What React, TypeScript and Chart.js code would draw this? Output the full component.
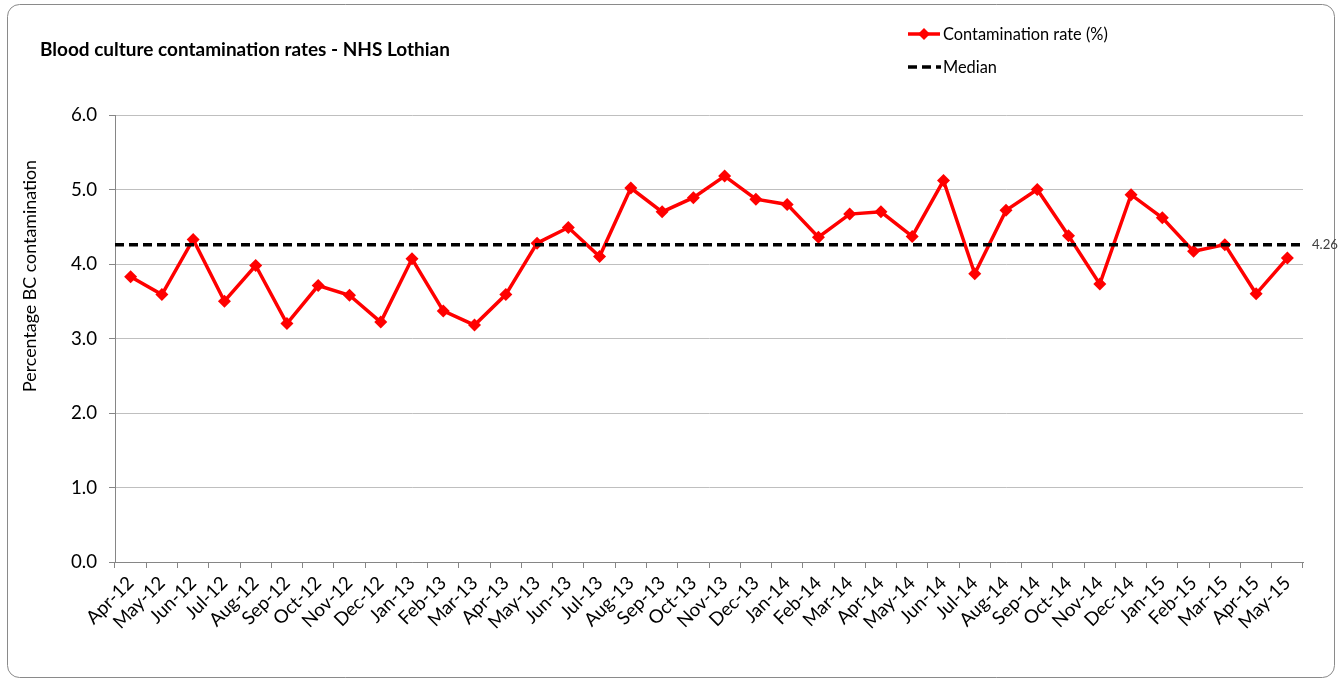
import React, { useEffect, useRef } from "react";
import { Chart, registerables } from "chart.js";

Chart.register(...registerables);

const categories = [
  "Apr-12", "May-12", "Jun-12", "Jul-12", "Aug-12", "Sep-12", "Oct-12", "Nov-12", "Dec-12", "Jan-13", "Feb-13", "Mar-13",
  "Apr-13", "May-13", "Jun-13", "Jul-13", "Aug-13", "Sep-13", "Oct-13", "Nov-13", "Dec-13", "Jan-14", "Feb-14", "Mar-14",
  "Apr-14", "May-14", "Jun-14", "Jul-14", "Aug-14", "Sep-14", "Oct-14", "Nov-14", "Dec-14", "Jan-15", "Feb-15", "Mar-15",
  "Apr-15", "May-15",
];

const rates = [
  3.83, 3.59, 4.33, 3.5, 3.98, 3.2, 3.71, 3.58, 3.22, 4.07, 3.37, 3.18,
  3.59, 4.28, 4.49, 4.1, 5.02, 4.7, 4.89, 5.18, 4.87, 4.8, 4.36, 4.67,
  4.7, 4.37, 5.12, 3.87, 4.72, 5.0, 4.38, 3.73, 4.93, 4.62, 4.17, 4.26,
  3.6, 4.08,
];

const median = 4.26;
const yMin = 0;
const yMax = 6;
const yStep = 1;

const chartTitle = "Blood culture contamination rates - NHS Lothian";
const seriesLabel = "Contamination rate (%)";
const medianLabel = "Median";
const yAxisTitle = "Percentage BC contamination";

const FAMILY = "Lato, 'Open Sans', sans-serif";

function fitSize(text: string, weight: string, target: number): number {
  const c = document.createElement("canvas").getContext("2d")!;
  c.font = `${weight} 100px ${FAMILY}`;
  return (target / c.measureText(text).width) * 100;
}

export default function App() {
  const ref = useRef<HTMLCanvasElement>(null);

  useEffect(() => {
    document.body.style.margin = "0";
    const legendSize = fitSize(seriesLabel, "normal", 165);
    const tickSize = legendSize * 1.14;
    const titleSize = fitSize(chartTitle, "bold", 410);
    const yTitleSize = fitSize(yAxisTitle, "normal", 232);
    const medSize = fitSize(median.toFixed(2), "normal", 26);

    const decor = {
      id: "decor",
      beforeDraw(chart: any) {
        const ctx = chart.ctx;
        ctx.save();
        ctx.fillStyle = "#ffffff";
        ctx.fillRect(0, 0, chart.width, chart.height);
        ctx.strokeStyle = "#8a8a8a";
        ctx.lineWidth = 1;
        ctx.beginPath();
        (ctx as any).roundRect(7.5, 4.5, 1327, 673, 12);
        ctx.stroke();
        ctx.restore();
      },
      afterDatasetsDraw(chart: any) {
        const ctx = chart.ctx;
        const ys = chart.scales.y;
        const area = chart.chartArea;
        const y = ys.getPixelForValue(median);
        ctx.save();
        ctx.strokeStyle = "#000000";
        ctx.lineWidth = 3.5;
        ctx.setLineDash([9, 5]);
        ctx.beginPath();
        ctx.moveTo(area.left, y);
        ctx.lineTo(area.right, y);
        ctx.stroke();
        ctx.setLineDash([]);
        ctx.fillStyle = "#404040";
        ctx.font = `normal ${medSize}px ${FAMILY}`;
        ctx.textBaseline = "middle";
        ctx.textAlign = "left";
        ctx.fillText(median.toFixed(2), area.right + 9, y);
        ctx.restore();
      },
      afterDraw(chart: any) {
        const ctx = chart.ctx;
        ctx.save();
        // title
        ctx.fillStyle = "#000000";
        ctx.font = `bold ${titleSize}px ${FAMILY}`;
        ctx.textBaseline = "middle";
        ctx.textAlign = "left";
        ctx.fillText(chartTitle, 40, 50);
        // legend
        ctx.font = `normal ${legendSize}px ${FAMILY}`;
        ctx.strokeStyle = "#ff0000";
        ctx.lineWidth = 3.5;
        ctx.beginPath();
        ctx.moveTo(908, 34);
        ctx.lineTo(940, 34);
        ctx.stroke();
        ctx.fillStyle = "#ff0000";
        ctx.beginPath();
        ctx.moveTo(924, 28);
        ctx.lineTo(930, 34);
        ctx.lineTo(924, 40);
        ctx.lineTo(918, 34);
        ctx.closePath();
        ctx.fill();
        ctx.fillStyle = "#000000";
        ctx.fillText(seriesLabel, 943, 35);
        ctx.strokeStyle = "#000000";
        ctx.lineWidth = 3.5;
        ctx.setLineDash([9, 5]);
        ctx.beginPath();
        ctx.moveTo(908, 67);
        ctx.lineTo(941, 67);
        ctx.stroke();
        ctx.setLineDash([]);
        ctx.fillText(medianLabel, 943, 68);
        // y axis title
        ctx.translate(30, 276);
        ctx.rotate(-Math.PI / 2);
        ctx.textAlign = "center";
        ctx.font = `normal ${yTitleSize}px ${FAMILY}`;
        ctx.fillText(yAxisTitle, 0, 0);
        ctx.restore();
      },
    };

    const chart = new Chart(ref.current!, {
      type: "line",
      data: {
        labels: categories,
        datasets: [
          {
            label: seriesLabel,
            data: rates,
            borderColor: "#ff0000",
            backgroundColor: "#ff0000",
            borderWidth: 3.5,
            pointStyle: "rectRot",
            pointRadius: 6.5,
            pointBorderWidth: 0,
            pointBackgroundColor: "#ff0000",
            tension: 0,
          },
        ],
      },
      options: {
        responsive: false,
        animation: false,
        events: [],
        layout: { padding: { top: 115, right: 36, left: 0, bottom: 0 } },
        plugins: {
          legend: { display: false },
          title: { display: false },
          tooltip: { enabled: false },
        },
        scales: {
          x: {
            type: "category",
            offset: true,
            afterFit(scale: any) {
              scale.height = 120;
            },
            grid: {
              offset: true,
              drawOnChartArea: false,
              drawTicks: true,
              tickLength: 6,
              tickColor: "#868686",
            },
            border: { color: "#868686", width: 1 },
            ticks: {
              autoSkip: false,
              maxRotation: 45,
              minRotation: 45,
              padding: 4,
              color: "#000000",
              font: { family: FAMILY, size: tickSize },
            },
          },
          y: {
            min: yMin,
            max: yMax,
            afterFit(scale: any) {
              scale.width = 115;
            },
            grid: {
              color: "#bfbfbf",
              lineWidth: 1,
              drawTicks: true,
              tickLength: 6,
              tickColor: "#868686",
            },
            border: { color: "#868686", width: 1 },
            ticks: {
              stepSize: yStep,
              padding: 12,
              color: "#000000",
              font: { family: FAMILY, size: tickSize },
              callback: (v: any) => Number(v).toFixed(1),
            },
          },
        },
      },
      plugins: [decor],
    });

    return () => chart.destroy();
  }, []);

  return (
    <div style={{ position: "fixed", left: 0, top: 0, width: 1339, height: 682, background: "#fff" }}>
      <canvas ref={ref} width={1339} height={682} style={{ display: "block" }} />
    </div>
  );
}
